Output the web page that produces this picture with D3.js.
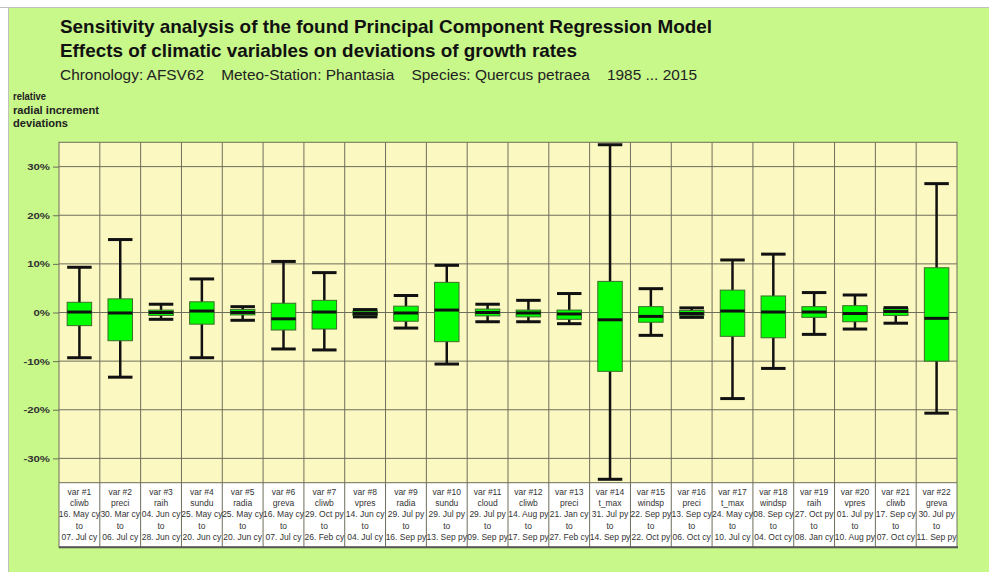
<!DOCTYPE html>
<html>
<head>
<meta charset="utf-8">
<script src="https://cdn.jsdelivr.net/npm/d3@7"></script>
<style>
  body { margin: 0; background: #fff; }
  svg { display: block; }
  text { font-family: "Liberation Sans Narrow", "Liberation Sans", Arial, sans-serif; }
</style>
</head>
<body>
<svg id="chart" width="989" height="572"></svg>
<script>
// variables (table header)
var varIds = ['var #1','var #2','var #3','var #4','var #5','var #6','var #7','var #8','var #9','var #10','var #11',
  'var #12','var #13','var #14','var #15','var #16','var #17','var #18','var #19','var #20','var #21','var #22'];
var varNames = ['cliwb','preci','raih','sundu','radia','greva','cliwb','vpres','radia','sundu','cloud',
  'cliwb','preci','t_max','windsp','preci','t_max','windsp','raih','vpres','cliwb','greva'];
var periodFrom = ['16. May cy','30. Mar cy','04. Jun cy','25. May cy','25. May cy','16. May cy','29. Oct py','14. Jun cy',
  '29. Jul py','29. Jul py','29. Jul py','14. Aug py','21. Jan cy','31. Jul py','22. Sep py','13. Sep cy','24. May cy',
  '08. Sep cy','27. Oct py','01. Jul py','17. Sep cy','30. Jul py'];
var periodTo = ['07. Jul cy','06. Jul cy','28. Jun cy','20. Jun cy','20. Jun cy','07. Jul cy','26. Feb cy','04. Jul cy',
  '16. Sep py','13. Sep py','09. Sep py','17. Sep py','27. Feb cy','14. Sep py','22. Oct py','06. Oct cy','10. Jul cy',
  '04. Oct cy','08. Jan cy','10. Aug py','07. Oct cy','11. Sep py'];

// box plot values, percent
var whiskerHigh = [9.3, 15.0, 1.7, 6.9, 1.2, 10.5, 8.2, 0.6, 3.5, 9.7, 1.7, 2.5, 3.9, 34.5, 4.9, 0.95, 10.8, 12.0, 4.1, 3.6, 1.0, 26.5];
var upperQ    = [2.1, 2.8, 0.5, 2.2, 0.6, 1.9, 2.5, 0.3, 1.3, 6.2, 0.7, 0.5, 0.5, 6.4, 1.2, 0.4, 4.6, 3.4, 1.2, 1.4, 0.8, 9.2];
var medians   = [0.1, -0.1, 0.0, 0.3, 0.0, -1.3, 0.1, -0.2, -0.1, 0.5, 0.0, -0.1, -0.3, -1.5, -0.8, -0.2, 0.3, 0.1, 0.1, -0.2, 0.2, -1.2];
var lowerQ    = [-2.7, -5.8, -0.6, -2.4, -0.5, -3.6, -3.4, -0.6, -1.8, -6.0, -0.7, -0.9, -1.4, -12.1, -2.0, -0.6, -4.9, -5.2, -1.0, -1.9, -0.6, -10.0];
var whiskerLow = [-9.3, -13.3, -1.4, -9.3, -1.6, -7.5, -7.7, -0.9, -3.2, -10.6, -1.9, -1.9, -2.3, -34.3, -4.7, -1.0, -17.7, -11.5, -4.5, -3.4, -2.2, -20.7];

var yTicks = [-30, -20, -10, 0, 10, 20, 30];

var titleLines = ['Sensitivity analysis of the found Principal Component Regression Model',
  'Effects of climatic variables on deviations of growth rates'];
var subtitle = 'Chronology: AFSV62    Meteo-Station: Phantasia    Species: Quercus petraea    1985 ... 2015';
var yLabelLines = ['relative', 'radial increment', 'deviations'];

var svg = d3.select('#chart');
var W = 989, H = 572;
var plotL = 59, plotR = 957, plotT = 142.3, plotB = 482.7, tableB = 547.3;

// background frame
svg.append('rect').attr('x', 0).attr('y', 0).attr('width', W).attr('height', H).attr('fill', '#ffffff');
svg.append('rect').attr('x', 8).attr('y', 7).attr('width', W - 8).attr('height', H - 7)
  .attr('fill', '#c8f78a');
svg.append('line').attr('x1', 0).attr('x2', W).attr('y1', 7.5).attr('y2', 7.5).attr('stroke', '#c0c0c0');
svg.append('line').attr('x1', 8.5).attr('x2', 8.5).attr('y1', 7).attr('y2', H).attr('stroke', '#c0c0c0');

// titles
var titleY = [33, 57];
titleLines.forEach(function(t, i){
  svg.append('text').attr('x', 60).attr('y', titleY[i])
    .attr('font-size', 18.5).attr('font-weight', 'bold').attr('fill', '#111')
    .attr('textLength', i === 0 ? 652 : 517).attr('lengthAdjust', 'spacingAndGlyphs')
    .text(t);
});
svg.append('text').attr('x', 60).attr('y', 80)
  .attr('font-size', 15.4).attr('fill', '#222')
  .style('white-space', 'pre')
  .attr('textLength', 637).attr('lengthAdjust', 'spacingAndGlyphs')
  .text(subtitle);

var ylW = [33, 86, 55];
yLabelLines.forEach(function(t, i){
  svg.append('text').attr('x', 13).attr('y', 100 + i * 13.5)
    .attr('font-size', 10).attr('font-weight', 'bold').attr('fill', '#222')
    .attr('textLength', ylW[i]).attr('lengthAdjust', 'spacingAndGlyphs')
    .text(t);
});

// scales
var x = d3.scaleBand().domain(d3.range(varIds.length)).range([plotL, plotR]).padding(0);
var y = d3.scaleLinear().domain([-35, 35]).range([plotB, plotT]);

// plot + table backgrounds
svg.append('rect').attr('x', plotL).attr('y', plotT).attr('width', plotR - plotL).attr('height', plotB - plotT)
  .attr('fill', '#fcf8c2');
svg.append('rect').attr('x', plotL).attr('y', plotB).attr('width', plotR - plotL).attr('height', tableB - plotB)
  .attr('fill', '#ffffff');

// grid
var gridColor = '#6e6e5c';
svg.append('g').selectAll('line').data(yTicks).join('line')
  .attr('x1', plotL).attr('x2', plotR)
  .attr('y1', function(d){ return y(d); }).attr('y2', function(d){ return y(d); })
  .attr('stroke', gridColor).attr('stroke-width', 1);
svg.append('g').selectAll('line').data(d3.range(1, varIds.length)).join('line')
  .attr('x1', function(i){ return x(i); }).attr('x2', function(i){ return x(i); })
  .attr('y1', plotT).attr('y2', tableB)
  .attr('stroke', gridColor).attr('stroke-width', 1);

// y axis
var yAxis = d3.axisLeft(y).tickValues(yTicks).tickSize(6).tickPadding(3)
  .tickFormat(function(d){ return d + '%'; });
var gy = svg.append('g').attr('transform', 'translate(' + plotL + ',0)').call(yAxis);
gy.select('.domain').remove();
gy.selectAll('.tick line').attr('stroke', gridColor);
gy.selectAll('.tick text').attr('font-size', 9.5).attr('font-weight', 'bold').attr('fill', '#333')
  .attr('font-family', '"Liberation Sans", Arial, sans-serif')
  .each(function(){
    var w = this.getComputedTextLength();
    d3.select(this).attr('textLength', w * 1.2).attr('lengthAdjust', 'spacingAndGlyphs');
  });

// plot border
svg.append('rect').attr('x', plotL).attr('y', plotT).attr('width', plotR - plotL).attr('height', tableB - plotT)
  .attr('fill', 'none').attr('stroke', gridColor).attr('stroke-width', 1);
svg.append('line').attr('x1', plotL).attr('x2', plotR).attr('y1', plotB).attr('y2', plotB)
  .attr('stroke', gridColor).attr('stroke-width', 1);
svg.append('line').attr('x1', plotL).attr('x2', plotR + 1).attr('y1', tableB).attr('y2', tableB)
  .attr('stroke', '#555').attr('stroke-width', 2);

// boxes
var bw = x.bandwidth() * 0.6;
var boxes = svg.append('g').selectAll('g').data(d3.range(varIds.length)).join('g')
  .attr('transform', function(i){ return 'translate(' + (x(i) + x.bandwidth() / 2) + ',0)'; });
boxes.append('line').attr('x1', 0).attr('x2', 0)
  .attr('y1', function(i){ return y(whiskerHigh[i]); }).attr('y2', function(i){ return y(whiskerLow[i]); })
  .attr('stroke', '#111').attr('stroke-width', 2.5);
boxes.append('rect').attr('x', -bw / 2).attr('width', bw)
  .attr('y', function(i){ return y(upperQ[i]); })
  .attr('height', function(i){ return y(lowerQ[i]) - y(upperQ[i]); })
  .attr('fill', '#00ff00').attr('stroke', '#3c6e2a').attr('stroke-width', 1);
boxes.append('line').attr('x1', -bw / 2).attr('x2', bw / 2)
  .attr('y1', function(i){ return y(medians[i]); }).attr('y2', function(i){ return y(medians[i]); })
  .attr('stroke', '#111').attr('stroke-width', 3);
[whiskerHigh, whiskerLow].forEach(function(arr){
  boxes.append('line').attr('x1', -bw / 2).attr('x2', bw / 2)
    .attr('y1', function(i){ return y(arr[i]); }).attr('y2', function(i){ return y(arr[i]); })
    .attr('stroke', '#111').attr('stroke-width', 3);
});

// table labels
var rows = [varIds, varNames, periodFrom, periodTo.map(function(){ return 'to'; }), periodTo];
var rowY = [495, 506, 517, 528.5, 539.5];
var table = svg.append('g');
rows.forEach(function(arr, r){
  table.append('g').selectAll('text').data(d3.range(varIds.length)).join('text')
    .attr('x', function(i){ return x(i) + x.bandwidth() / 2; })
    .attr('y', rowY[r])
    .attr('text-anchor', 'middle')
    .attr('font-size', 8.5).attr('fill', '#333')
    .attr('font-family', '"Liberation Sans", Arial, sans-serif')
    .text(function(i){ return arr[i]; });
});
</script>
</body>
</html>
